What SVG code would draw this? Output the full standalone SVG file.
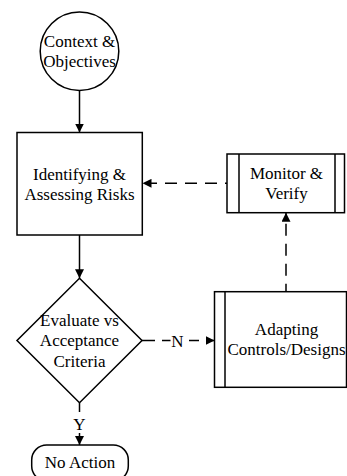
<svg xmlns="http://www.w3.org/2000/svg" width="347" height="476" viewBox="0 0 347 476">
<defs>
<marker id="arr" markerWidth="9" markerHeight="9" refX="9" refY="4.5" orient="auto" markerUnits="userSpaceOnUse"><path d="M0,0 L9,4.5 L0,9 z" fill="#000" stroke="none"/></marker>
<style>
.shape{fill:#fff;stroke:#000;stroke-width:1.5}
.ln{fill:none;stroke:#000;stroke-width:1.5}
.edge{fill:none;stroke:#000;stroke-width:1.5;marker-end:url(#arr)}
.dash{stroke-dasharray:12 8;stroke-dashoffset:10}
.t{font-family:"Liberation Serif","Times New Roman",serif;font-size:17px;fill:#000;text-anchor:middle}
.bg{fill:#fff;stroke:none}
</style>
</defs>
<rect width="347" height="476" fill="#fff"/>
<g id="connectors">
<path class="edge" d="M79.5,90.6 V132.5"/>
<path class="edge" d="M79.5,235 V278.3"/>
<path class="edge dash" d="M227,183.3 H142.5"/>
<path class="edge" stroke-dasharray="12 8" stroke-dashoffset="4" d="M286,291.7 V212.7"/>
<path class="ln" stroke-dasharray="13 7" d="M142,340.5 H170.5"/>
<path class="edge" stroke-dasharray="10 7" d="M189,340.5 H214.5"/>
<text class="t" x="177.5" y="346.5">N</text>
<path class="edge" d="M79.5,402.7 V445"/>
<rect class="bg" x="71" y="412" width="17" height="21"/>
<text class="t" x="79.5" y="430">Y</text>
</g>
<g id="context">
<circle class="shape" cx="79.5" cy="51.3" r="39.3"/>
<text class="t" x="79.5" y="47"><tspan x="79.5">Context &amp;</tspan><tspan x="79.5" dy="20.4">Objectives</tspan></text>
</g>
<g id="identify">
<rect class="shape" x="17" y="132.5" width="125.3" height="102.5"/>
<text class="t" x="79.5" y="179.6"><tspan x="79.5">Identifying &amp;</tspan><tspan x="79.5" dy="20.4">Assessing Risks</tspan></text>
</g>
<g id="monitor">
<rect class="shape" x="227" y="154" width="117.5" height="58.7"/>
<path class="ln" d="M239,154 V212.7 M335,154 V212.7"/>
<text class="t" x="286.5" y="178.7"><tspan x="286.5">Monitor &amp;</tspan><tspan x="286.5" dy="20.4">Verify</tspan></text>
</g>
<g id="evaluate">
<path class="shape" d="M79.5,278.3 L142,340.5 L79.5,402.7 L17,340.5 Z"/>
<text class="t" x="79.5" y="325.8"><tspan x="79.5">Evaluate vs</tspan><tspan x="79.5" dy="20.4">Acceptance</tspan><tspan x="79.5" dy="20.4">Criteria</tspan></text>
</g>
<g id="adapting">
<rect class="shape" x="214.5" y="291.7" width="132" height="95.6"/>
<path class="ln" d="M225,291.7 V387.3"/>
<text class="t" x="286.5" y="335"><tspan x="286.5">Adapting</tspan><tspan x="286.5" dy="20.4">Controls/Designs</tspan></text>
</g>
<g id="noaction">
<rect class="shape" x="31.7" y="445" width="96.6" height="36" rx="15" ry="15"/>
<text class="t" x="80" y="468.3">No Action</text>
</g>
</svg>
